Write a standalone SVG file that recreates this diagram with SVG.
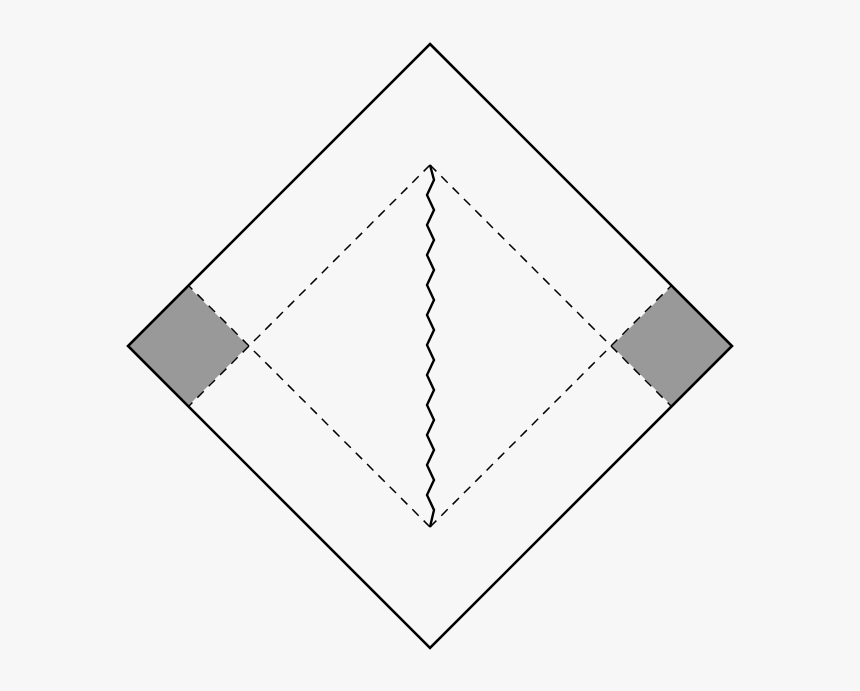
<svg xmlns="http://www.w3.org/2000/svg" width="860" height="691" viewBox="0 0 860 691">
<style>
.solid{fill:none;stroke:#000;stroke-width:2.6;stroke-linejoin:miter}
.dash{fill:none;stroke:#000;stroke-width:1.5;stroke-dasharray:9 7}
.gray{fill:#999;stroke:none}
.wig{fill:none;stroke:#000;stroke-width:2.4;stroke-linejoin:miter}
</style>
<rect width="860" height="691" fill="#f7f7f7"/>
<g id="left-region"><polygon class="gray" points="128,346 188,286 248,346 188,406"/></g>
<g id="right-region"><polygon class="gray" points="732,346 672,286 612,346 672,406"/></g>
<g id="outer"><polygon class="solid" points="430,44 732,346 430,648 128,346"/></g>
<g id="connectors">
<line class="dash" x1="430" y1="165" x2="188" y2="407"/>
<line class="dash" x1="430" y1="165" x2="672" y2="407"/>
<line class="dash" x1="430" y1="527" x2="188" y2="285"/>
<line class="dash" x1="430" y1="527" x2="672" y2="285"/>
<polyline class="wig" points="430,165 434,180 427,195 434,210 427,225 434,240 427,255 434,270 427,285 434,300 427,315 434,330 427,345 434,360 427,375 434,390 427,405 434,420 427,435 434,450 427,465 434,480 427,495 434,510 430,527"/>
</g>
</svg>
